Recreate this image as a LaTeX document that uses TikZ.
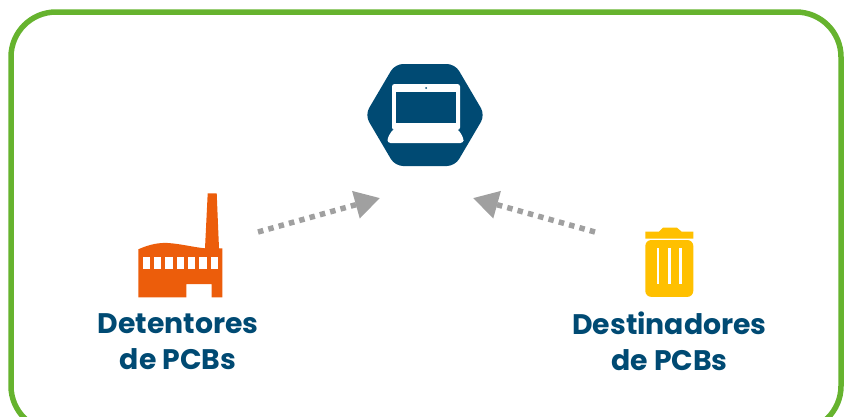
\documentclass[tikz,border=0pt]{standalone}
\usepackage{fontspec}
\setmainfont{Poppins}
\usetikzlibrary{arrows.meta}
\definecolor{navy}{HTML}{004A73}
\definecolor{frameg}{HTML}{66B32E}
\definecolor{orangef}{HTML}{EC5D0B}
\definecolor{yellowt}{HTML}{FFC000}
\definecolor{arrowg}{HTML}{A0A0A0}
\tikzset{
  label text/.style={text=navy,font=\fontsize{28.3}{36}\selectfont\bfseries,align=center,anchor=center,inner sep=0pt},
  dotted link/.style={draw=arrowg,line width=5.5pt,dash pattern=on 5.5pt off 5.2pt,-{Triangle[length=25pt,width=27pt,fill=arrowg]}},
  white shape/.style={fill=white,draw=none}
}
\begin{document}
\begin{tikzpicture}[x=1pt,y=-1pt]
\useasboundingbox (0,0) rectangle (845,416);
\clip (0,0) rectangle (845,416);
\draw[frameg,line width=5.5pt,rounded corners=45pt] (11,12) rectangle (841,431);
% hexagon
\fill[navy,rounded corners=8pt] (365,115) -- (395,64) -- (455,64) -- (485,115) -- (455,166) -- (395,166) -- cycle;
% laptop
\fill[white shape,rounded corners=2.5pt] (392,130) -- (392,84) -- (460,84) -- (460,130) -- cycle;
\fill[white shape,rounded corners=3pt] (393,129) -- (387.5,138) -- (387.5,143) -- (463.5,143) -- (463.5,138) -- (458,129) -- cycle;
\fill[navy] (396,92) rectangle (456,123);
\fill[navy] (426,88) circle (1pt);
% factory
\fill[orangef] (138.3,297.3) -- (138.3,249.3) .. controls (150,244) and (160,242.5) .. (168,243) .. controls (182,244) and (192,247) .. (205,248.3) -- (207.7,193.3) -- (216.7,193.3) -- (219,248.3) -- (222.3,248.3) -- (222.3,297.3) -- (211.7,297.3) -- (211.7,284) -- (186.3,284) -- (186.3,297.3) -- cycle;
\foreach \i in {0,...,6}{\fill[white] ({142.7+11.33*\i},256.7) rectangle ++(7.3,12);}
% bin
\fill[yellowt] (645.3,238.6) -- (645.3,231.7) -- (659,231.7) -- (663,227.7) -- (677,227.7) -- (681.7,231.7) -- (693.3,231.7) -- (693.3,238.6) -- cycle;
\fill[yellowt,rounded corners=6pt] (645.3,240) -- (645.3,296.9) -- (693.3,296.9) -- (693.3,240) -- cycle;
\foreach \x in {656.7,668,679}{\fill[white] (\x,247.7) rectangle ++(2.7,36.6);}
% labels
\node[label text] (det) at (178,341.5) {Detentores\\de PCBs};
\node[label text] (des) at (669.5,341.5) {Destinadores\\de PCBs};
% connectors
\coordinate (a1) at (258,232);
\coordinate (a1t) at (380,198);
\coordinate (a2) at (595,232);
\coordinate (a2t) at (473,198);
\draw[dotted link] (a1) -- (a1t);
\draw[dotted link] (a2) -- (a2t);
\end{tikzpicture}
\end{document}
